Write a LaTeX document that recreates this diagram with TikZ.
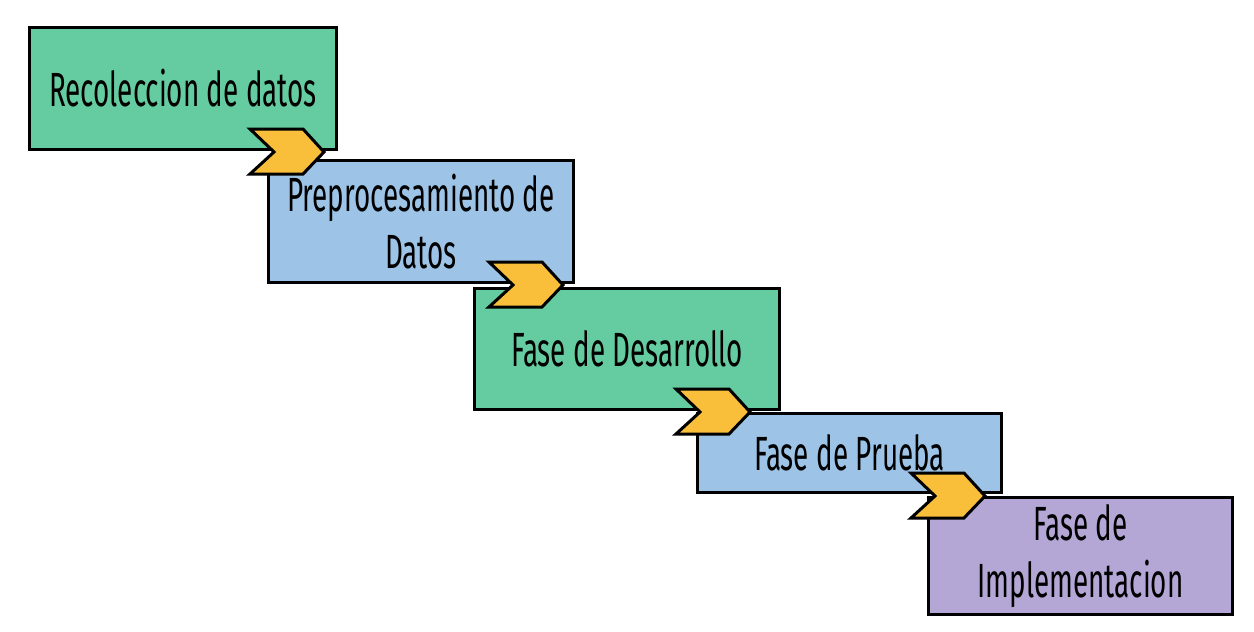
\documentclass[tikz,border=0pt]{standalone}
\usepackage{fontspec}
\setmainfont[FakeStretch=0.58]{Fira Sans}
\usetikzlibrary{calc}
\definecolor{boxgreen}{HTML}{64CCA0}
\definecolor{boxblue}{HTML}{9DC3E6}
\definecolor{boxpurple}{HTML}{B4A7D6}
\definecolor{chevfill}{HTML}{F9BF3B}
\begin{document}
\begin{tikzpicture}[x=0.5pt,y=-0.5pt,
  stagebox/.style={draw=black,line width=1.5pt,inner sep=0pt,anchor=north west,
    align=center,font=\fontsize{24}{28.5}\selectfont},
  chevron/.pic={\path[draw=black,line width=1.5pt,fill=chevfill,line join=miter]
    (0,0) -- (-21,-23) -- (-74,-23) -- (-50,0) -- (-74,22) -- (-21,22) -- cycle;}]
\useasboundingbox (0,0) rectangle (1254,632);
\node[stagebox,fill=boxgreen,minimum width=153.5pt,minimum height=61pt] (b1) at (28,26) {Recoleccion de datos};
\node[stagebox,fill=boxblue,minimum width=152.5pt,minimum height=61pt] (b2) at (267,159) {Preprocesamiento de\\Datos};
\node[stagebox,fill=boxgreen,minimum width=152.5pt,minimum height=60.5pt] (b3) at (473,287) {Fase de Desarrollo};
\node[stagebox,fill=boxblue,minimum width=152pt,minimum height=39.5pt] (b4) at (696,412) {Fase de Prueba};
\node[stagebox,fill=boxpurple,minimum width=152pt,minimum height=58.5pt] (b5) at (927,496) {Fase de\\Implementacion};
\coordinate (t1) at ($(b1.south east)+(-14,1)$);
\coordinate (t2) at ($(b2.south east)+(-12,1)$);
\coordinate (t3) at ($(b3.south east)+(-31,1)$);
\coordinate (t4) at ($(b4.south east)+(-18,2)$);
\pic at (t1) {chevron};
\pic at (t2) {chevron};
\pic at (t3) {chevron};
\pic at (t4) {chevron};
\end{tikzpicture}
\end{document}
